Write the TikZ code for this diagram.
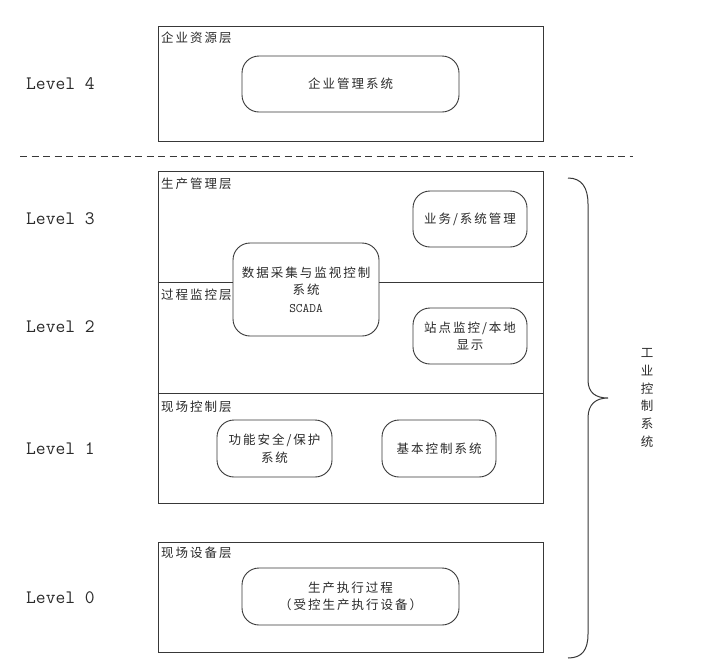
\documentclass[tikz,border=0pt]{standalone}
\usepackage{fontspec}
\newfontfamily\cjk{Noto Sans CJK SC}[LetterSpace=16]
\setmonofont{Latin Modern Mono}
\definecolor{ln}{HTML}{383838}
\definecolor{tx}{HTML}{2A2A2A}
\begin{document}
\begin{tikzpicture}[x=1pt,y=-1pt,
  layer/.style={draw=ln,line width=1pt,inner sep=0pt},
  rbox/.style={draw=ln,line width=0.9pt,rounded corners=17pt,inner sep=0pt,align=center,
    text=tx,font=\fontsize{12.5}{17.5}\selectfont\cjk},
  lay/.style={anchor=west,inner sep=0pt,text=tx,font=\fontsize{12.5}{15}\selectfont\cjk},
  lvl/.style={anchor=west,inner sep=0pt,text=tx,font=\fontsize{19}{22}\selectfont\ttfamily}]
\useasboundingbox (0,0) rectangle (712,665);
\fill[white] (0,0) rectangle (712,665);
% layer boxes
\node[layer,minimum width=385pt,minimum height=115pt] (L4) at (350.5,83.5) {};
\node[layer,minimum width=385pt,minimum height=332pt] (ics) at (350.5,337) {};
\node[layer,minimum width=385pt,minimum height=110pt] (L0) at (350.5,597) {};
% layer labels
\node[lay] (t4) at (161,38) {企业资源层};
\node[lay] (t3) at (161,184) {生产管理层};
\node[lay] (t2) at (161,295) {过程监控层};
\node[lay] (t1) at (161,407) {现场控制层};
\node[lay] (t0) at (161,553) {现场设备层};
% inner boxes
\node[rbox,minimum width=217pt,minimum height=56pt] (erp) at (350.5,84) {企业管理系统};
\node[rbox,minimum width=114pt,minimum height=56pt] (biz) at (470,219) {业务/系统管理};
\node[rbox,minimum width=146pt,minimum height=93pt] (scada) at (306,289.5) {数据采集与监视控制\\系统\\{\fontsize{13}{17.5}\selectfont\ttfamily SCADA}};
\node[rbox,minimum width=114pt,minimum height=56pt] (site) at (470,336) {站点监控/本地\\显示};
\node[rbox,minimum width=115pt,minimum height=57pt] (sis) at (274.5,448.5) {功能安全/保护\\系统};
\node[rbox,minimum width=114pt,minimum height=57pt] (bpcs) at (439,448.5) {基本控制系统};
\node[rbox,minimum width=217pt,minimum height=57pt] (proc) at (350.5,596.5) {生产执行过程\\（受控生产执行设备）};
% separators inside ICS box
\draw[ln,line width=1pt] (ics.west |- 0,282) -- (scada.west |- 0,282);
\draw[ln,line width=1pt] (scada.east |- 0,282) -- (ics.east |- 0,282);
\draw[ln,line width=1pt] (ics.west |- 0,393) -- (ics.east |- 0,393);
% dashed divider
\coordinate (dl) at (20,156);
\coordinate (dr) at (633,156);
\draw[ln,line width=1pt,dash pattern=on 7pt off 4.5pt] (dl) -- (dr);
% level labels
\node[lvl] (v4) at (26,84) {Level 4};
\node[lvl] (v3) at (26,219) {Level 3};
\node[lvl] (v2) at (26,327) {Level 2};
\node[lvl] (v1) at (26,449) {Level 1};
\node[lvl] (v0) at (26,598) {Level 0};
% brace
\coordinate (btop) at (568,178);
\coordinate (btip) at (608,398);
\coordinate (bbot) at (568,658);
\draw[ln,line width=1pt] (btop) .. controls (582,178) and (588,188) .. (588,204)
  -- (588,380) .. controls (588,393) and (596,398) .. (btip)
  .. controls (596,398) and (588,404) .. (588,418)
  -- (588,634) .. controls (588,650) and (582,658) .. (bbot);
\node[inner sep=0pt,align=center,text=tx,font=\fontsize{12.5}{17.8}\selectfont\cjk] (icsl) at (647,398) {工\\业\\控\\制\\系\\统};
\end{tikzpicture}
\end{document}
